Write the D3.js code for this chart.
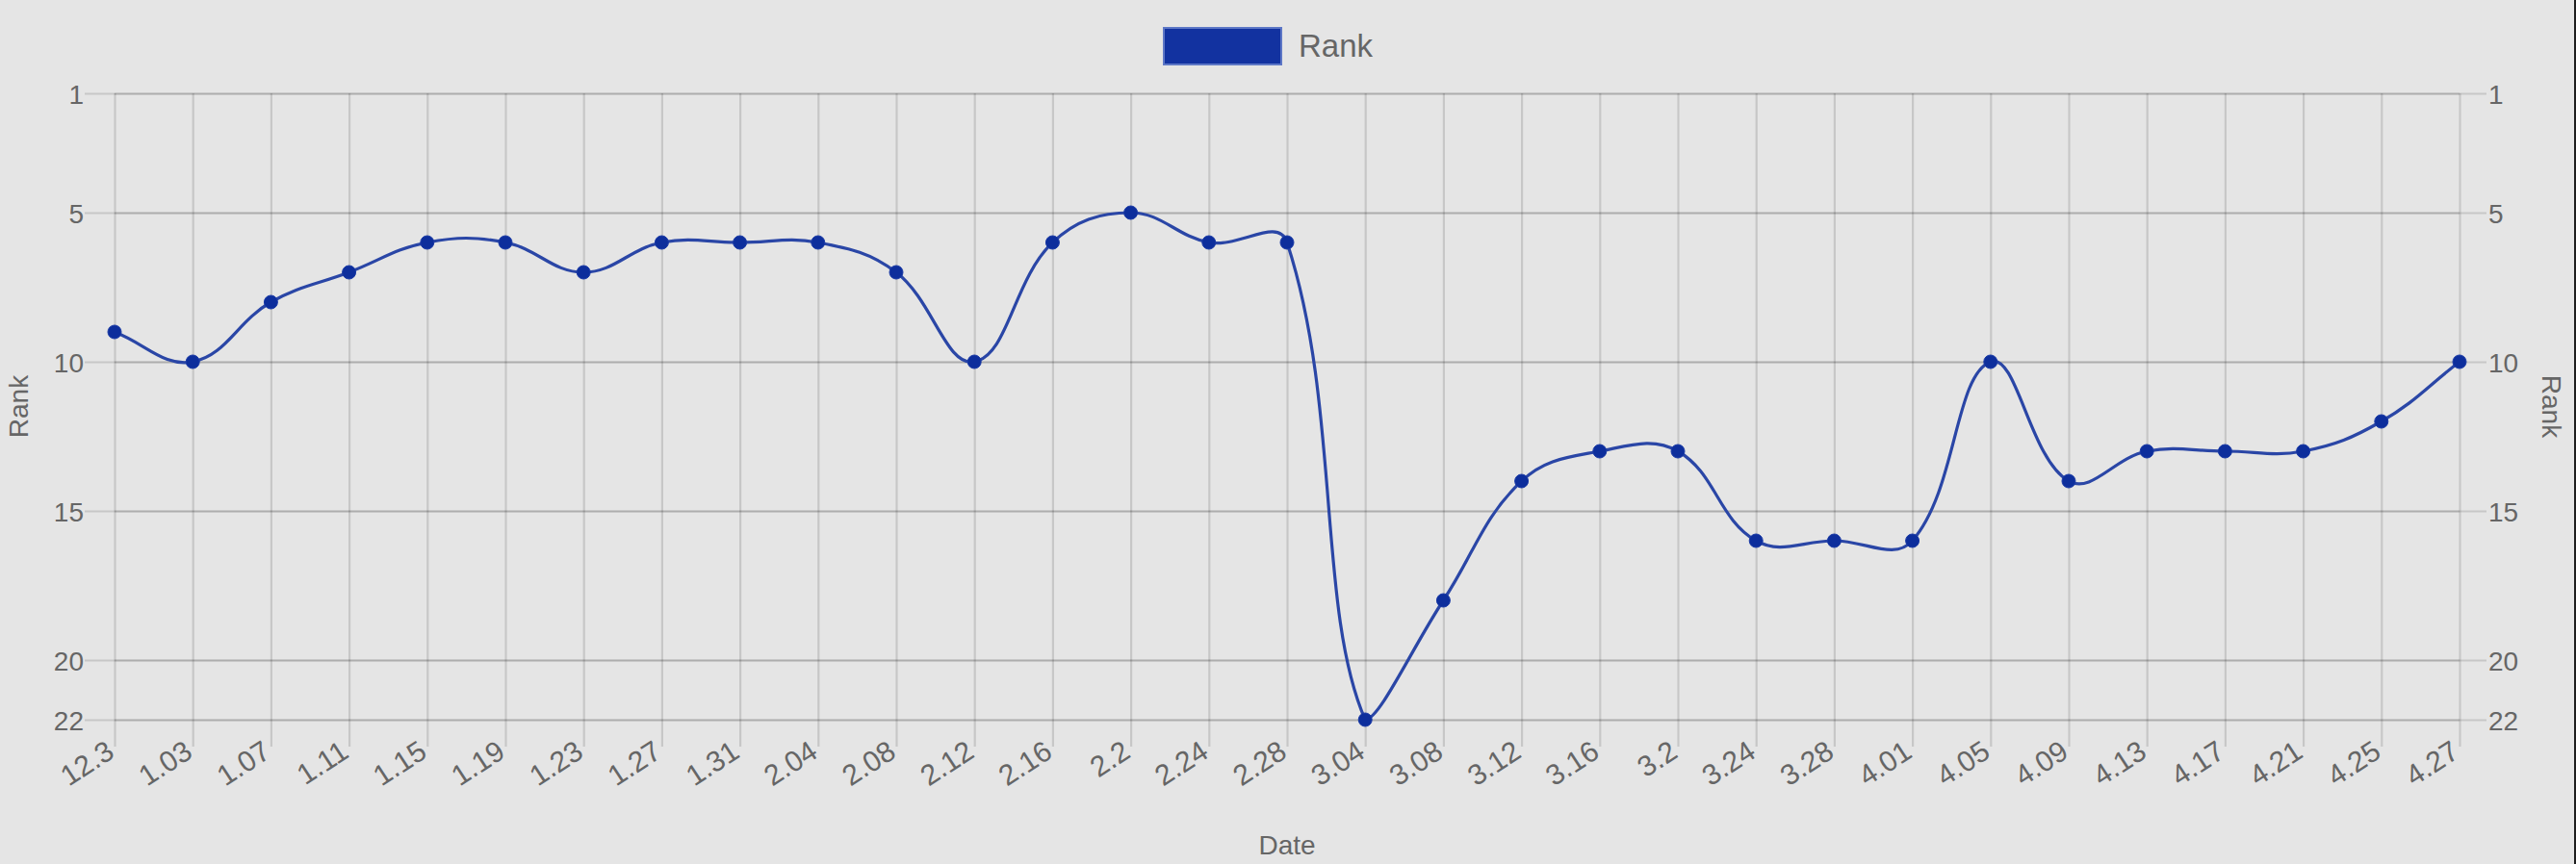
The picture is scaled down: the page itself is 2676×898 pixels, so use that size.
<!DOCTYPE html>
<html>
<head>
<meta charset="utf-8">
<script src="https://cdn.jsdelivr.net/npm/d3@7"></script>
<style>
  html, body { margin: 0; padding: 0; background: #e5e5e5; }
  svg { display: block; }
  text { font-family: "Liberation Sans", Arial, Helvetica, sans-serif; fill: #666; }
</style>
</head>
<body>
<svg id="chart" width="2676" height="898"></svg>
<script>
const dates = ["12.3","1.03","1.07","1.11","1.15","1.19","1.23","1.27","1.31","2.04","2.08","2.12","2.16","2.2","2.24","2.28","3.04","3.08","3.12","3.16","3.2","3.24","3.28","4.01","4.05","4.09","4.13","4.17","4.21","4.25","4.27"];
const ranks = [9,10,8,7,6,6,7,6,6,6,7,10,6,5,6,6,22,18,14,13,13,16,16,16,10,14,13,13,13,12,10];
const yTicks = [1,5,10,15,20,22];
const seriesName = "Rank";
const xTitle = "Date";
const yTitle = "Rank";

const W = 2676, H = 898;
const area = { left: 119, right: 2555, top: 97, bottom: 748 };
const svg = d3.select("#chart");

svg.append("rect").attr("width", W).attr("height", H).attr("fill", "#e5e5e5");

const x = d3.scalePoint().domain(dates).range([area.left, area.right]);
const y = d3.scaleLinear().domain([1, 22]).range([area.top, area.bottom]);

const gridColor = "rgba(0,0,0,0.13)";

// Vertical grid + ticks (x axis)
const xAxis = d3.axisBottom(x).tickSizeOuter(0).tickFormat("");
const gx = svg.append("g").attr("transform", `translate(0,${area.bottom})`).call(xAxis);
gx.select(".domain").remove();
gx.selectAll(".tick line").attr("stroke", gridColor).attr("stroke-width", 2.2)
  .attr("y2", -(area.bottom - area.top)).attr("y1", 28);

// x labels rotated
gx.selectAll(".tick").append("text")
  .attr("transform", "translate(1,38) rotate(-33)")
  .attr("text-anchor", "end")
  .attr("font-size", 30)
  .style("fill", "#666")
  .text(d => d);

// Horizontal grid, left and right axes (both draw grid lines, like the original)
function yAxisGroup(side) {
  const ax = (side === "left" ? d3.axisLeft(y) : d3.axisRight(y))
    .tickValues(yTicks).tickSizeOuter(0);
  const g = svg.append("g")
    .attr("transform", `translate(${side === "left" ? area.left : area.right},0)`)
    .call(ax);
  g.select(".domain").remove();
  const span = area.right - area.left;
  g.selectAll(".tick line")
    .attr("stroke", gridColor).attr("stroke-width", 2.2)
    .attr("x1", side === "left" ? -31 : 28)
    .attr("x2", side === "left" ? span : -span);
  g.selectAll(".tick text")
    .attr("font-size", 28)
    .attr("x", side === "left" ? -32 : 30)
    .attr("dy", "0.36em")
    .style("fill", "#666");
  return g;
}
yAxisGroup("left");
yAxisGroup("right");

// Axis titles
svg.append("text")
  .attr("transform", `translate(29,${(area.top + area.bottom) / 2}) rotate(-90)`)
  .attr("text-anchor", "middle").attr("font-size", 28).text(yTitle);
svg.append("text")
  .attr("transform", `translate(2641,${(area.top + area.bottom) / 2}) rotate(90)`)
  .attr("text-anchor", "middle").attr("font-size", 28).text(yTitle);
svg.append("text")
  .attr("x", (area.left + area.right) / 2).attr("y", 888)
  .attr("text-anchor", "middle").attr("font-size", 28).text(xTitle);

// Chart.js-style spline (tension 0.4, capped to chart area)
const pts = dates.map((d, i) => ({ x: x(d), y: y(ranks[i]) }));
const tension = 0.4;
const cps = pts.map((p, i) => {
  const prev = pts[i - 1] || p, next = pts[i + 1] || p;
  const d01 = Math.hypot(p.x - prev.x, p.y - prev.y);
  const d12 = Math.hypot(next.x - p.x, next.y - p.y);
  let s01 = d01 / (d01 + d12), s12 = d12 / (d01 + d12);
  if (isNaN(s01)) s01 = 0; if (isNaN(s12)) s12 = 0;
  const fa = tension * s01, fb = tension * s12;
  const cap = (v, lo, hi) => Math.max(lo, Math.min(hi, v));
  return {
    px: cap(p.x - fa * (next.x - prev.x), area.left, area.right),
    py: cap(p.y - fa * (next.y - prev.y), area.top, area.bottom),
    nx: cap(p.x + fb * (next.x - prev.x), area.left, area.right),
    ny: cap(p.y + fb * (next.y - prev.y), area.top, area.bottom)
  };
});
const path = d3.path();
pts.forEach((p, i) => {
  if (i === 0) path.moveTo(p.x, p.y);
  else path.bezierCurveTo(cps[i - 1].nx, cps[i - 1].ny, cps[i].px, cps[i].py, p.x, p.y);
});
svg.append("path").attr("d", path.toString())
  .attr("fill", "none").attr("stroke", "#2a46a6").attr("stroke-width", 3.2);

svg.append("g").selectAll("circle").data(ranks).join("circle")
  .attr("cx", (d, i) => x(dates[i])).attr("cy", d => y(d)).attr("r", 7)
  .attr("fill", "#0d2e9c").attr("stroke", "#1a3aa6").attr("stroke-width", 1);

// Legend
svg.append("rect").attr("x", 1209).attr("y", 29).attr("width", 122).attr("height", 38)
  .attr("fill", "#1232a0").attr("stroke", "#5d77c6").attr("stroke-width", 2);
svg.append("text").attr("x", 1349).attr("y", 59).attr("font-size", 33).text(seriesName);

// right-edge dark strip
svg.append("rect").attr("x", W - 2).attr("y", 0).attr("width", 2).attr("height", H).attr("fill", "#1e1e1e");
</script>
</body>
</html>
